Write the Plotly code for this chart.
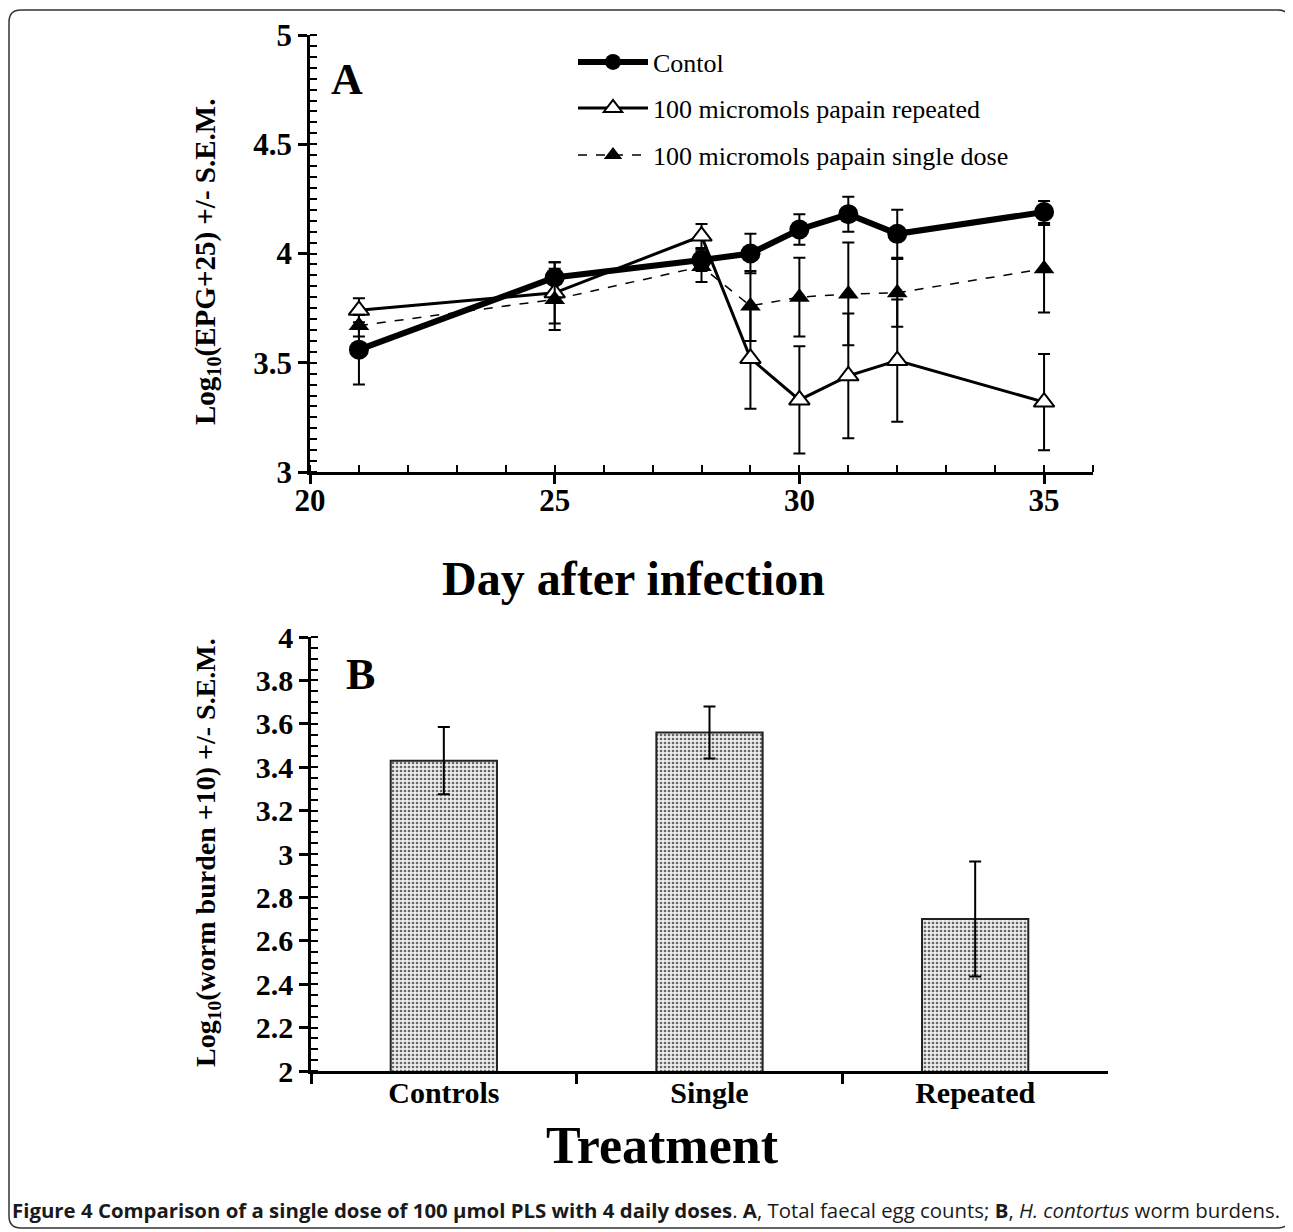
import plotly.graph_objects as go

# ---------------- data ----------------
days = [21, 25, 28, 29, 30, 31, 32, 35]
control = [3.56, 3.89, 3.97, 4.00, 4.11, 4.18, 4.09, 4.19]
control_sem = [0.16, 0.07, 0.05, 0.09, 0.07, 0.08, 0.11, 0.05]
repeated = [3.74, 3.82, 4.08, 3.52, 3.33, 3.44, 3.51, 3.32]
repeated_sem = [0.055, 0.14, 0.055, 0.23, 0.245, 0.285, 0.28, 0.22]
single = [3.67, 3.79, 3.94, 3.76, 3.80, 3.815, 3.82, 3.93]
single_sem = [0.05, 0.14, 0.07, 0.16, 0.18, 0.235, 0.155, 0.20]

treatments = ["Controls", "Single", "Repeated"]
burden = [3.43, 3.56, 2.70]
burden_sem = [0.155, 0.12, 0.265]

SERIF = "Liberation Serif"
W, H = 1293, 1232
OFF = 8  # page body margin


def px(x):
    return (x - OFF) / W


def py(y):
    return 1 - (y - OFF) / H


fig = go.Figure()

fig.add_trace(go.Scatter(
    x=days, y=control, name="Contol", mode="lines+markers", legend="legend",
    line=dict(color="black", width=6),
    marker=dict(symbol="circle", size=20, color="black"),
    error_y=dict(type="data", array=control_sem, color="black", thickness=2, width=6),
    xaxis="x", yaxis="y"))
fig.add_trace(go.Scatter(
    x=days, y=repeated, name="100 micromols papain repeated", mode="lines+markers",
    legend="legend2",
    line=dict(color="black", width=3),
    marker=dict(symbol="triangle-up", size=18, color="white", line=dict(color="black", width=2)),
    error_y=dict(type="data", array=repeated_sem, color="black", thickness=2, width=6),
    xaxis="x", yaxis="y"))
fig.add_trace(go.Scatter(
    x=days, y=single, name="100 micromols papain single dose", mode="lines+markers",
    legend="legend3",
    line=dict(color="black", width=1.5, dash="dash"),
    marker=dict(symbol="triangle-up", size=18, color="black"),
    error_y=dict(type="data", array=single_sem, color="black", thickness=2, width=6),
    xaxis="x", yaxis="y"))

fig.add_trace(go.Bar(
    x=treatments, y=burden, width=0.4, showlegend=False,
    marker=dict(color="#eeeeee", line=dict(color="#222", width=2),
                pattern=dict(shape=".", fgcolor="#666666", bgcolor="#eeeeee",
                             size=4, solidity=0.35)),
    error_y=dict(type="data", array=burden_sem, color="black", thickness=2, width=6),
    xaxis="x2", yaxis="y2"))

tickfont = dict(family=SERIF, size=31, color="black", weight="bold")
tickfont_b = dict(family=SERIF, size=30, color="black", weight="bold")

common = dict(showline=True, linecolor="black", linewidth=2.5, tickcolor="black",
              showgrid=False, zeroline=False, automargin=False)


def leg(yc):
    return dict(x=px(573), y=py(yc), xanchor="left", yanchor="middle",
                font=dict(family=SERIF, size=26, color="black"),
                bgcolor="rgba(0,0,0,0)", itemwidth=70, borderwidth=0)


fig.update_layout(
    template="none",
    width=W, height=H, autosize=False,
    margin=dict(l=0, r=0, t=0, b=0, pad=0, autoexpand=False),
    paper_bgcolor="white", plot_bgcolor="white",
    showlegend=True,
    legend=leg(62), legend2=leg(108), legend3=leg(155),
    xaxis=dict(domain=[px(310), px(1093)], range=[20, 36], dtick=5, tick0=20,
               ticks="outside", ticklen=9, tickwidth=2.5, ticklabelstandoff=-10,
               minor=dict(dtick=1, ticks="inside", ticklen=7, tickwidth=2, tickcolor="black"),
               tickfont=tickfont, anchor="y", **common),
    yaxis=dict(domain=[py(472), py(35)], range=[3, 5], dtick=0.5, tick0=3,
               ticks="outside", ticklen=9, tickwidth=2.5,
               minor=dict(dtick=0.05, ticks="inside", ticklen=7, tickwidth=2, tickcolor="black"),
               tickfont=tickfont, anchor="x", **common),
    xaxis2=dict(domain=[px(311), px(1108)], range=[-0.5, 2.5],
                ticks="outside", tickson="boundaries", ticklen=10, tickwidth=2.5,
                ticklabelstandoff=-7,
                tickfont=tickfont_b, anchor="y2", **common),
    yaxis2=dict(domain=[py(1071), py(637)], range=[2, 4], dtick=0.2, tick0=2,
                ticks="outside", ticklen=9, tickwidth=2.5,
                minor=dict(dtick=0.05, ticks="inside", ticklen=7, tickwidth=2, tickcolor="black"),
                tickfont=tickfont_b, anchor="x2", **common),
)


def label(text, x, y, size, angle=0, xanchor="center"):
    return dict(text=text, x=px(x), y=py(y), xref="paper", yref="paper",
                xanchor=xanchor, yanchor="middle", textangle=angle, showarrow=False,
                font=dict(family=SERIF, size=size, color="black"))


ann = [
    label("<b>A</b>", 347, 80, 44),
    label("<b>B</b>", 360, 674, 44),
    label("<b>Log<sub>10</sub>(EPG+25) +/- S.E.M.</b>", 207, 262, 29, angle=-90),
    label("<b>Log<sub>10</sub>(worm burden +10) +/- S.E.M.</b>", 207, 853, 28, angle=-90),
    label("<b>Day after infection</b>", 633, 578, 48),
    label("<b>Treatment</b>", 662, 1145, 52),
]
ann.append(dict(text="<b>Figure 4 Comparison of a single dose of 100 µmol PLS with 4 daily doses</b>. "
                     "<b>A</b>, Total faecal egg counts; <b>B</b>, <i>H. contortus</i> worm burdens.",
                x=px(10), y=py(1210), xref="paper", yref="paper", xanchor="left", yanchor="middle",
                showarrow=False, font=dict(family="Open Sans", size=20.4, color="#1a1a1a")))
fig.update_layout(annotations=ann)

# rounded frame
x0, x1 = px(9), px(1290)
yt, yb = py(10), py(1228)
rx, ry = 12 / W, 12 / H
path = (f"M {x0+rx},{yt} L {x1-rx},{yt} Q {x1},{yt} {x1},{yt-ry} L {x1},{yb+ry} "
        f"Q {x1},{yb} {x1-rx},{yb} L {x0+rx},{yb} Q {x0},{yb} {x0},{yb+ry} "
        f"L {x0},{yt-ry} Q {x0},{yt} {x0+rx},{yt} Z")
fig.add_shape(type="path", path=path, xref="paper", yref="paper",
              line=dict(color="#333", width=1.5))

fig.write_html("out.html")
